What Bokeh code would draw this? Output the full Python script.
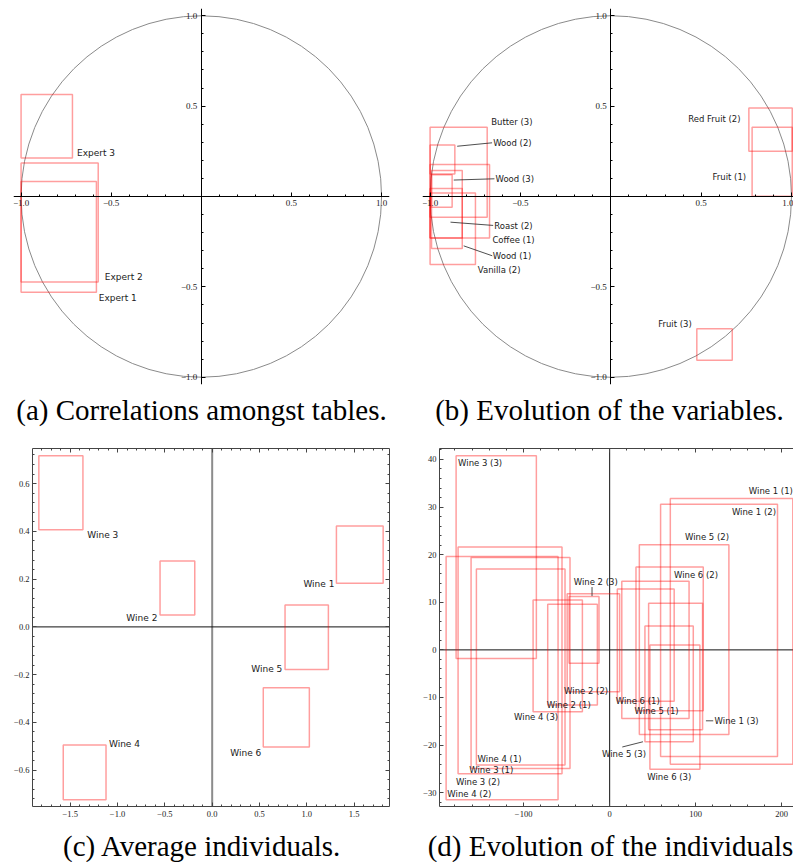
from bokeh.plotting import figure
from bokeh.models import FixedTicker, LinearAxis, Range1d, Span
from bokeh.layouts import column, row
from bokeh.embed import file_html
from bokeh.resources import INLINE
from bokeh.core.properties import value

SERIF = "Liberation Serif"
SANS = "DejaVu Sans"
RECT_COLOR = "#ff0000"

# ---------------- data: panel (a) ----------------
a_names = ["Expert 1", "Expert 2", "Expert 3"]
a_left = [-1.0, -1.0, -1.0]
a_right = [-0.582, -0.572, -0.715]
a_top = [0.083, 0.186, 0.564]
a_bottom = [-0.530, -0.473, 0.213]
a_lab_x = [-0.569, -0.536, -0.690]
a_lab_y = [-0.563, -0.447, 0.240]

# ---------------- data: panel (b) ----------------
b_names = ["Butter (3)", "Wood (2)", "Coffee (1)", "Wood (1)", "Wood (3)",
           "Roast (2)", "Vanilla (2)", "Red Fruit (2)", "Fruit (1)", "Fruit (3)"]
b_left = [-1.0, -1.0, -1.0, -0.992, -0.992, -1.0, -1.0, 0.764, 0.782, 0.476]
b_right = [-0.684, -0.863, -0.671, -0.822, -0.878, -0.822, -0.749, 1.004, 1.004, 0.672]
b_top = [0.383, 0.285, 0.177, 0.144, 0.121, 0.044, 0.020, 0.490, 0.383, -0.731]
b_bottom = [-0.115, 0.125, -0.229, -0.287, -0.059, -0.230, -0.376, 0.250, 0.002, -0.906]
b_lab_x = [-0.662, -0.651, -0.655, -0.653, -0.638, -0.645, -0.736, 0.428, 0.563, 0.262]
b_lab_y = [0.414, 0.298, -0.241, -0.328, 0.098, -0.162, -0.409, 0.429, 0.110, -0.707]
# leader lines (Wood (2), Wood (3), Roast (2), Wood (1))
b_lead_x0 = [-0.850, -0.869, -0.887, -0.814]
b_lead_y0 = [0.278, 0.091, -0.142, -0.273]
b_lead_x1 = [-0.657, -0.644, -0.651, -0.656]
b_lead_y1 = [0.297, 0.098, -0.160, -0.328]

circle_radius = 1.0

# ---------------- data: panel (c) ----------------
c_names = ["Wine 1", "Wine 2", "Wine 3", "Wine 4", "Wine 5", "Wine 6"]
c_left = [1.313, -0.551, -1.832, -1.574, 0.770, 0.540]
c_right = [1.807, -0.184, -1.366, -1.122, 1.228, 1.027]
c_top = [0.422, 0.276, 0.717, -0.495, 0.092, -0.255]
c_bottom = [0.183, 0.050, 0.407, -0.724, -0.178, -0.503]
c_lab_x = [0.964, -0.907, -1.320, -1.091, 0.413, 0.191]
c_lab_y = [0.178, 0.036, 0.383, -0.491, -0.176, -0.530]

# ---------------- data: panel (d) ----------------
d_left = [-178.5, -176.2, -190.1, -161.1, -154.9, -89.0, -72.0, -49.4, -47.2,
          8.9, 14.1, 30.6, 34.5, 45.3, 41.0, 46.8, 59.2, 70.5]
d_right = [-85.2, -55.4, -60.0, -46.1, -51.9, -31.7, -14.3, 11.6, -12.4,
           75.0, 92.3, 108.8, 138.6, 108.0, 97.2, 104.9, 195.1, 212.9]
d_top = [40.8, 21.6, 19.6, 19.4, 17.0, 10.5, 9.6, 11.8, 11.2,
         12.8, 14.4, 17.4, 22.1, 9.8, 5.0, 1.0, 30.6, 31.8]
d_bottom = [-1.8, -26.0, -31.5, -24.9, -24.2, -13.0, -11.6, -8.8, -2.8,
            -10.8, -14.4, -12.8, -17.8, -16.8, -19.3, -25.1, -22.4, -24.0]
d_names = ["Wine 1 (1)", "Wine 1 (2)", "Wine 1 (3)", "Wine 2 (1)", "Wine 2 (2)", "Wine 2 (3)",
           "Wine 3 (1)", "Wine 3 (2)", "Wine 3 (3)", "Wine 4 (1)", "Wine 4 (2)", "Wine 4 (3)",
           "Wine 5 (1)", "Wine 5 (2)", "Wine 5 (3)", "Wine 6 (1)", "Wine 6 (2)", "Wine 6 (3)"]
d_lab_x = [161.8, 142.1, 122.0, -73.2, -53.0, -41.8, -163.2, -178.7, -176.2,
           -153.5, -188.7, -111.1, 29.0, 87.5, -8.9, 7.0, 74.7, 43.7]
d_lab_y = [33.4, 28.9, -15.0, -11.6, -8.7, 14.2, -25.2, -27.7, 39.3,
           -22.9, -30.3, -14.2, -12.8, 23.7, -21.8, -10.7, 15.8, -26.6]
# leader lines (Wine 2 (3), Wine 1 (3), Wine 5 (3))
d_lead_x0 = [-20.5, 111.9, 14.7]
d_lead_y0 = [13.2, -14.9, -20.4]
d_lead_x1 = [-20.5, 120.4, 38.7]
d_lead_y1 = [11.3, -14.9, -19.3]

# ---------------- ticks ----------------
ab_ticks = [-1.0, -0.5, 0.5, 1.0]
ab_labels = ["\u22121.0", "\u22120.5", "0.5", "1.0"]
ab_minor = [-0.9, -0.8, -0.7, -0.6, -0.4, -0.3, -0.2, -0.1,
            0.1, 0.2, 0.3, 0.4, 0.6, 0.7, 0.8, 0.9]

c_xticks = [-1.5, -1.0, -0.5, 0.0, 0.5, 1.0, 1.5]
c_xlabels = ["\u22121.5", "\u22121.0", "\u22120.5", "0.0", "0.5", "1.0", "1.5"]
c_xminor = [round(-1.8 + 0.1 * i, 2) for i in range(37)]
c_yticks = [-0.6, -0.4, -0.2, 0.0, 0.2, 0.4, 0.6]
c_ylabels = ["\u22120.6", "\u22120.4", "\u22120.2", "0.0", "0.2", "0.4", "0.6"]
c_yminor = [round(-0.72 + 0.04 * i, 2) for i in range(37)]

d_xticks = [-100, 0, 100, 200]
d_xlabels = ["\u2212100", "0", "100", "200"]
d_xminor = [-180 + 20 * i for i in range(21)]
d_yticks = [-30, -20, -10, 0, 10, 20, 30, 40]
d_ylabels = ["\u221230", "\u221220", "\u221210", "0", "10", "20", "30", "40"]
d_yminor = [-32 + 2 * i for i in range(38)]

captions = ["(a) Correlations amongst tables.", "(b) Evolution of the variables.",
            "(c) Average individuals.", "(d) Evolution of the individuals"]


def make_fig(w, h, xr, yr, bl, br, bt, bb):
    p = figure(width=w, height=h, x_range=Range1d(*xr), y_range=Range1d(*yr),
               output_backend="svg", toolbar_location=None,
               min_border_left=bl, min_border_right=br,
               min_border_top=bt, min_border_bottom=bb)
    p.grid.visible = False
    p.background_fill_color = "white"
    p.border_fill_color = "white"
    p.outline_line_color = None
    return p


def caption_fig(w, h, text, tx, ty):
    # a bare strip (no axes) that only carries the sub-figure caption
    p = figure(width=w, height=h, x_range=Range1d(0, w), y_range=Range1d(0, h),
               output_backend="svg", toolbar_location=None,
               x_axis_type=None, y_axis_type=None, min_border=0)
    p.grid.visible = False
    p.outline_line_color = None
    p.background_fill_color = "white"
    p.border_fill_color = "white"
    p.text(x=[tx], y=[ty], text=[text], text_font=value(SERIF), text_font_size="29px",
           text_align="center", text_baseline="alphabetic", text_color="black")
    return p


def style_axis(ax, ticks, labels, minor, size, standoff, color="black", show_labels=True):
    ax.ticker = FixedTicker(ticks=ticks, minor_ticks=minor)
    ax.major_label_overrides = dict(zip(ticks, labels))
    ax.major_label_text_font = SERIF
    ax.major_label_text_font_size = size if show_labels else "2px"
    ax.major_label_text_color = "#222222" if show_labels else None
    ax.major_label_standoff = standoff if show_labels else 0
    ax.major_tick_in = 4
    ax.major_tick_out = 0
    ax.minor_tick_in = 2
    ax.minor_tick_out = 0
    ax.axis_line_color = color
    ax.major_tick_line_color = color
    ax.minor_tick_line_color = color
    ax.axis_line_width = 1


def rects(p, left, right, top, bottom):
    p.quad(left=left, right=right, top=top, bottom=bottom, fill_color=None,
           line_color=RECT_COLOR, line_alpha=0.38, line_width=1.5)


def labels(p, xs, ys, names, size):
    p.text(x=xs, y=ys, text=names, text_font=value(SANS), text_font_size=size,
           text_baseline="middle", text_align="left", text_color="#1a1a1a")


# ---------------- panel (a) ----------------
pa = make_fig(404, 386, (-1.042, 1.044), (-1.04, 1.04), 13, 15, 8, 2)
pa.ellipse(x=[0], y=[0], width=[2 * circle_radius], height=[2 * circle_radius],
           fill_color=None, line_color="#8a8a8a", line_width=1)
rects(pa, a_left, a_right, a_top, a_bottom)
labels(pa, a_lab_x, a_lab_y, a_names, "9px")
style_axis(pa.xaxis[0], ab_ticks, ab_labels, ab_minor, "9px", 3)
style_axis(pa.yaxis[0], ab_ticks, ab_labels, ab_minor, "9px", 4)
pa.xaxis.fixed_location = 0
pa.yaxis.fixed_location = 0

# ---------------- panel (b) ----------------
pb = make_fig(389, 386, (-1.042, 1.011), (-1.04, 1.04), 18, 0, 8, 2)
pb.ellipse(x=[0], y=[0], width=[2 * circle_radius], height=[2 * circle_radius],
           fill_color=None, line_color="#8a8a8a", line_width=1)
rects(pb, b_left, b_right, b_top, b_bottom)
pb.segment(x0=b_lead_x0, y0=b_lead_y0, x1=b_lead_x1, y1=b_lead_y1,
           line_color="#222222", line_width=0.8)
labels(pb, b_lab_x, b_lab_y, b_names, "8.5px")
style_axis(pb.xaxis[0], ab_ticks, ab_labels, ab_minor, "9px", 3)
style_axis(pb.yaxis[0], ab_ticks, ab_labels, ab_minor, "9px", 4)
pb.xaxis.fixed_location = 0
pb.yaxis.fixed_location = 0

cap_a = caption_fig(404, 44, captions[0], 201, 21)
cap_b = caption_fig(389, 44, captions[1], 205, 21)

# ---------------- panel (c) ----------------
pc = make_fig(404, 392, (-1.899, 1.874), (-0.752, 0.747), 32, 15, 18, 16)
pc.add_layout(Span(location=0, dimension="height", line_color="#8c8c8c", line_width=2, level="underlay"))
pc.add_layout(Span(location=0, dimension="width", line_color="#111111", line_width=1, level="underlay"))
rects(pc, c_left, c_right, c_top, c_bottom)
labels(pc, c_lab_x, c_lab_y, c_names, "9px")
style_axis(pc.xaxis[0], c_xticks, c_xlabels, c_xminor, "8.5px", 4, "#444444")
style_axis(pc.yaxis[0], c_yticks, c_ylabels, c_yminor, "8.5px", 3, "#444444")
c_top_ax = LinearAxis()
style_axis(c_top_ax, c_xticks, c_xlabels, c_xminor, "8.5px", 0, "#444444", show_labels=False)
pc.add_layout(c_top_ax, "above")
c_right_ax = LinearAxis()
style_axis(c_right_ax, c_yticks, c_ylabels, c_yminor, "8.5px", 0, "#444444", show_labels=False)
pc.add_layout(c_right_ax, "right")

# ---------------- panel (d) ----------------
pd_ = make_fig(389, 392, (-197.8, 213.7), (-32.9, 42.3), 35, 0, 16, 16)
pd_.add_layout(Span(location=0, dimension="height", line_color="#111111", line_width=1, level="underlay"))
pd_.add_layout(Span(location=0, dimension="width", line_color="#111111", line_width=1, level="underlay"))
rects(pd_, d_left, d_right, d_top, d_bottom)
pd_.segment(x0=d_lead_x0, y0=d_lead_y0, x1=d_lead_x1, y1=d_lead_y1,
            line_color="#222222", line_width=0.8)
labels(pd_, d_lab_x, d_lab_y, d_names, "8.5px")
style_axis(pd_.xaxis[0], d_xticks, d_xlabels, d_xminor, "8.5px", 4, "#444444")
style_axis(pd_.yaxis[0], d_yticks, d_ylabels, d_yminor, "8.5px", 3, "#444444")
d_top_ax = LinearAxis()
style_axis(d_top_ax, d_xticks, d_xlabels, d_xminor, "8.5px", 0, "#444444", show_labels=False)
pd_.add_layout(d_top_ax, "above")

cap_c = caption_fig(404, 40, captions[2], 202, 17)
cap_d = caption_fig(389, 40, captions[3], 206, 17)

layout = column(row(pa, pb), row(cap_a, cap_b), row(pc, pd_), row(cap_c, cap_d))
open("out.html", "w").write(file_html(layout, INLINE))
